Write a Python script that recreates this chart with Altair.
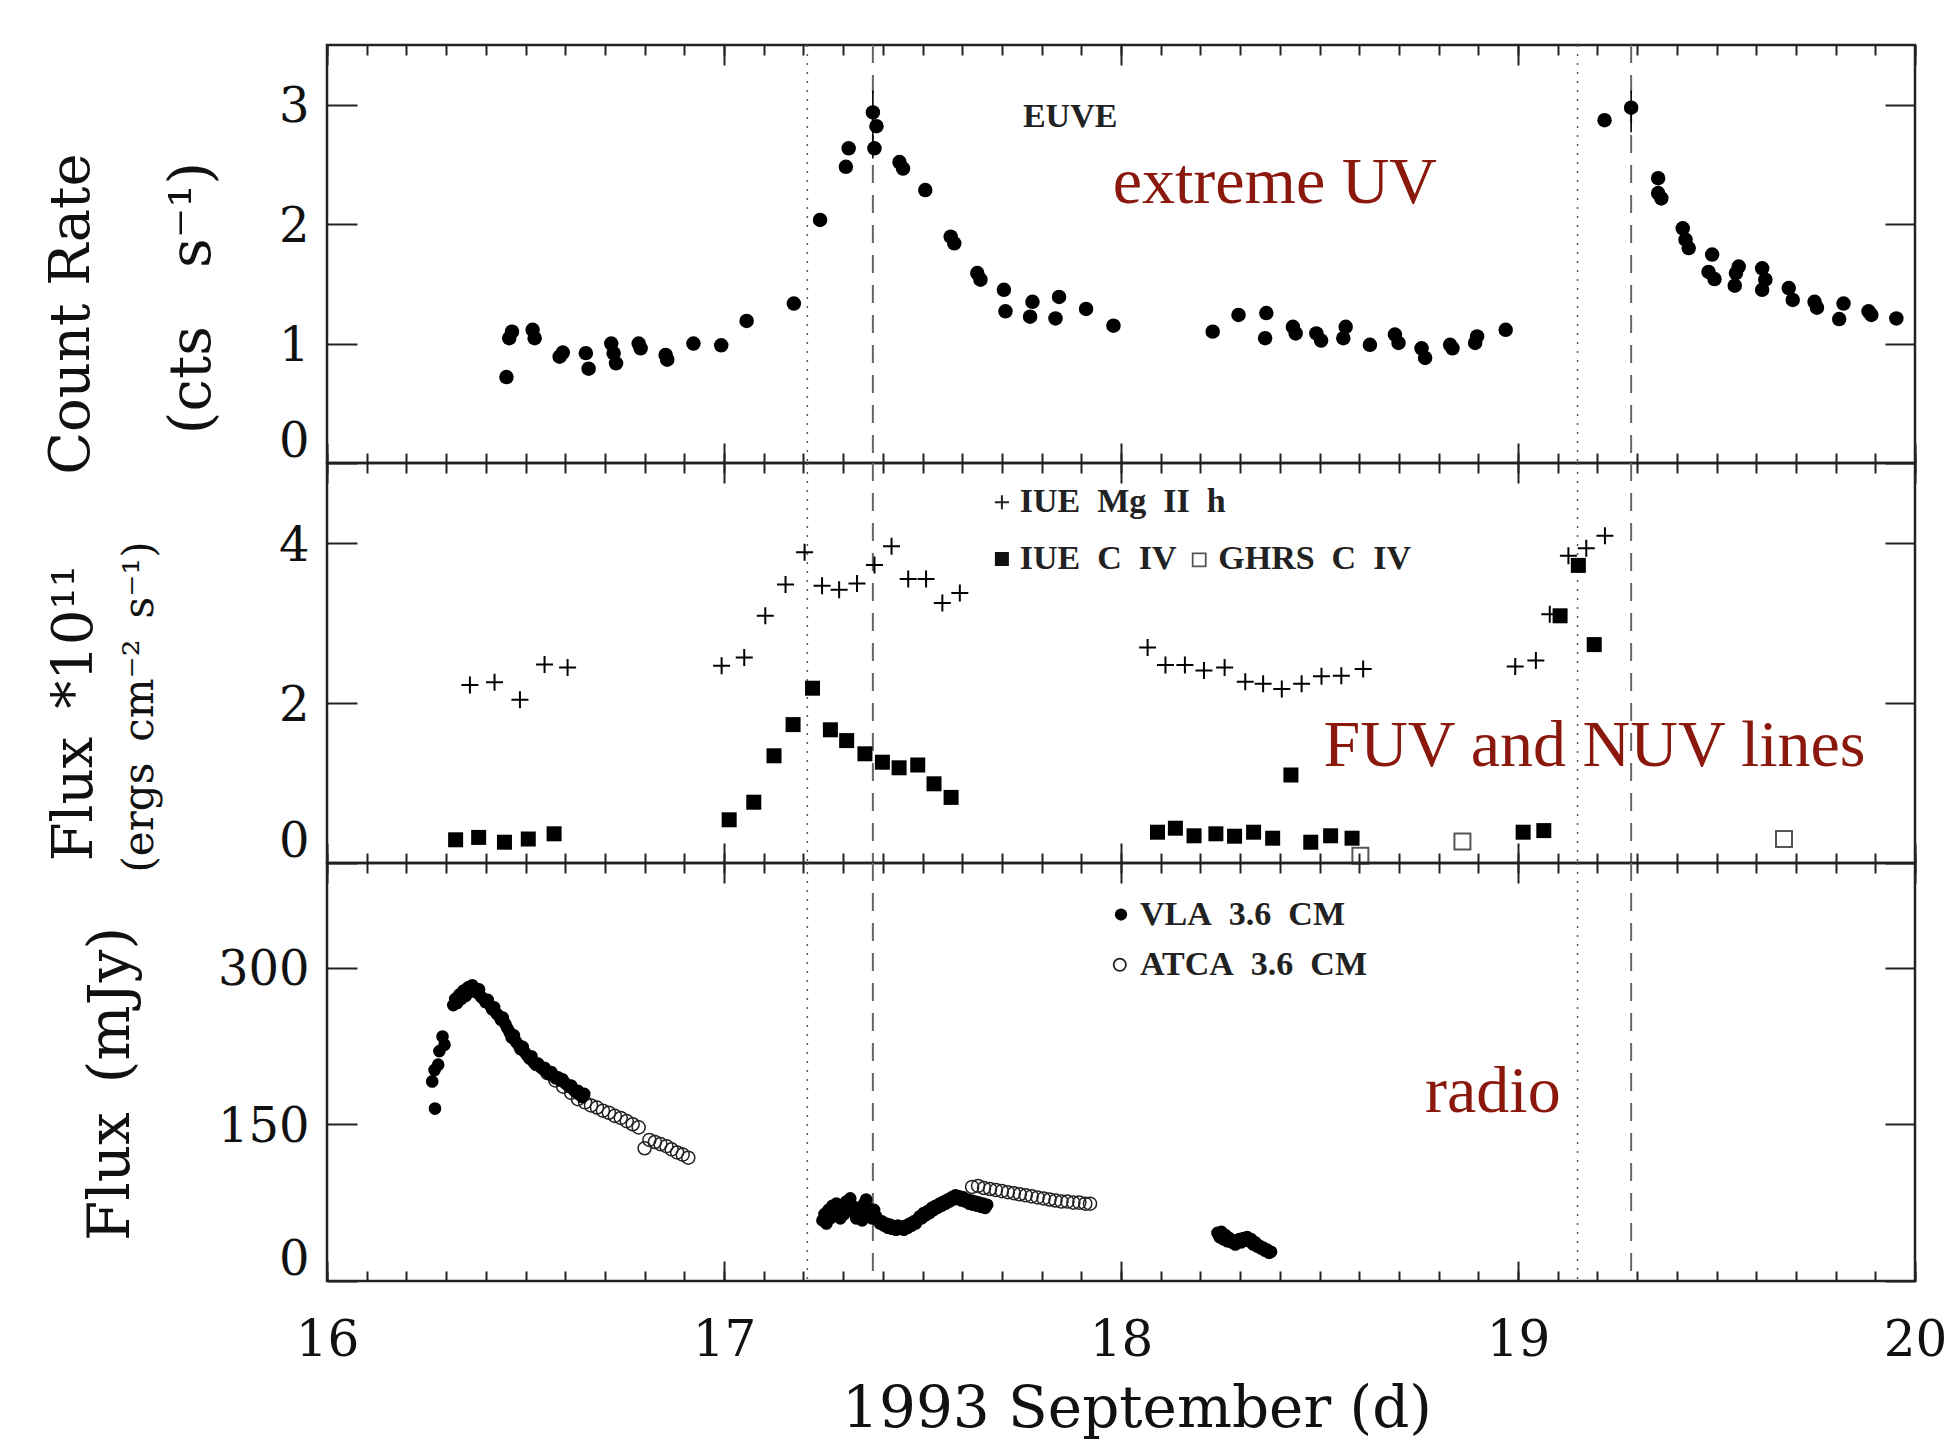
import altair as alt
import pandas as pd

# ---------------- data ----------------
EUVE_DAY = [16.452, 16.466, 16.459, 16.518, 16.523, 16.594, 16.586, 16.652, 16.659, 16.716,
            16.722, 16.728, 16.785, 16.790, 16.853, 16.857, 16.923, 16.993, 17.057, 17.176,
            17.242, 17.307, 17.314, 17.375, 17.384, 17.379, 17.442, 17.451, 17.507, 17.571,
            17.580, 17.638, 17.646, 17.705, 17.709, 17.777, 17.771, 17.844, 17.835, 17.912,
            17.981, 18.231, 18.296, 18.366, 18.363, 18.433, 18.440, 18.492, 18.504, 18.566,
            18.560, 18.627, 18.690, 18.699, 18.757, 18.766, 18.829, 18.835, 18.897, 18.892,
            18.969, 19.218, 19.285, 19.353, 19.353, 19.361, 19.415, 19.422, 19.430, 19.489,
            19.480, 19.495, 19.556, 19.549, 19.546, 19.615, 19.623, 19.615, 19.682, 19.692,
            19.747, 19.753, 19.820, 19.809, 19.883, 19.890, 19.953]
EUVE_RATE = [0.72, 1.10, 1.045, 1.115, 1.045, 0.925, 0.89, 0.92, 0.79, 1.00,
             0.92, 0.835, 1.00, 0.96, 0.905, 0.865, 1.00, 0.985, 1.19, 1.335,
             2.035, 2.48, 2.635, 2.935, 2.82, 2.635, 2.52, 2.465, 2.285, 1.895,
             1.84, 1.59, 1.535, 1.45, 1.27, 1.35, 1.225, 1.39, 1.21, 1.29,
             1.15, 1.10, 1.24, 1.255, 1.045, 1.14, 1.085, 1.085, 1.025, 1.14,
             1.045, 0.99, 1.075, 1.005, 0.96, 0.88, 0.99, 0.96, 1.06, 1.005,
             1.115, 2.87, 2.975, 2.385, 2.26, 2.215, 1.965, 1.87, 1.80, 1.745,
             1.60, 1.54, 1.645, 1.59, 1.485, 1.63, 1.535, 1.45, 1.465, 1.365,
             1.35, 1.30, 1.335, 1.205, 1.27, 1.24, 1.21]
EUVE_ERR_DAY = [17.375, 19.285]
EUVE_ERR_LO = [2.55, 2.77]
EUVE_ERR_HI = [3.12, 3.12]

MG_DAY = [16.360, 16.422, 16.486, 16.548, 16.606,
          16.994, 17.051, 17.104, 17.155, 17.203, 17.247, 17.290, 17.335, 17.379, 17.422,
          17.464, 17.509, 17.550, 17.594,
          18.067, 18.112, 18.161, 18.209, 18.261, 18.313, 18.358, 18.405, 18.455, 18.505,
          18.555, 18.610,
          18.993, 19.045, 19.080, 19.127, 19.172, 19.219]
MG_FLUX = [2.225, 2.26, 2.04, 2.48, 2.445,
           2.465, 2.57, 3.09, 3.48, 3.885, 3.465, 3.415, 3.495, 3.725, 3.96,
           3.55, 3.55, 3.25, 3.375,
           2.695, 2.475, 2.475, 2.405, 2.445, 2.265, 2.24, 2.175, 2.24, 2.335,
           2.34, 2.425,
           2.455, 2.53, 3.11, 3.84, 3.935, 4.09]

CIV_DAY = [16.324, 16.382, 16.447, 16.507, 16.572,
           17.013, 17.075, 17.126, 17.174, 17.223, 17.268, 17.309, 17.355, 17.399, 17.441,
           17.488, 17.529, 17.572,
           18.092, 18.137, 18.184, 18.239, 18.286, 18.334, 18.382, 18.428, 18.478, 18.528,
           18.582,
           19.013, 19.065, 19.106, 19.152, 19.192]
CIV_FLUX = [0.29, 0.32, 0.26, 0.30, 0.365,
            0.54, 0.76, 1.34, 1.73, 2.185, 1.665, 1.53, 1.365, 1.26, 1.19,
            1.225, 0.99, 0.82,
            0.385, 0.435, 0.34, 0.365, 0.335, 0.385, 0.31, 1.10, 0.26, 0.34,
            0.31,
            0.385, 0.405, 3.09, 3.72, 2.73]

GHRS_DAY = [18.603, 18.860, 19.670]
GHRS_FLUX = [0.09, 0.27, 0.30]

VLA = [(16.265, 191), (16.271, 202), (16.272, 165), (16.280, 207), (16.283, 220),
       (16.291, 234), (16.296, 226), (16.318, 264), (16.323, 270), (16.328, 266),
       (16.333, 274), (16.339, 270), (16.344, 278), (16.350, 273), (16.355, 281),
       (16.361, 277), (16.366, 283), (16.372, 280), (16.377, 276), (16.383, 279),
       (16.388, 272), (16.394, 270), (16.399, 267), (16.405, 269), (16.410, 264),
       (16.416, 260), (16.421, 262), (16.427, 256), (16.432, 254), (16.438, 250),
       (16.443, 252), (16.449, 246), (16.454, 242), (16.460, 238), (16.465, 233),
       (16.471, 235), (16.476, 229), (16.482, 226), (16.487, 222), (16.493, 224),
       (16.498, 219), (16.504, 216), (16.510, 213), (16.515, 215), (16.521, 209),
       (16.526, 207), (16.532, 208), (16.537, 205), (16.543, 203), (16.548, 204),
       (16.554, 200), (16.559, 198), (16.565, 200), (16.571, 196), (16.576, 194),
       (16.582, 195), (16.587, 192), (16.593, 193), (16.598, 190), (16.604, 188),
       (16.610, 186), (16.615, 187), (16.621, 183), (16.626, 181), (16.632, 182),
       (16.637, 178), (16.643, 176), (16.648, 179),
       (17.248, 58), (17.253, 64), (17.258, 55), (17.263, 68), (17.268, 60),
       (17.273, 72), (17.278, 63), (17.283, 74), (17.288, 66), (17.293, 60),
       (17.298, 70), (17.303, 64), (17.308, 76), (17.313, 68), (17.318, 79),
       (17.323, 72), (17.328, 66), (17.333, 60), (17.338, 70), (17.343, 62),
       (17.348, 58), (17.353, 74), (17.358, 78), (17.363, 70), (17.368, 64),
       (17.373, 60), (17.378, 68), (17.383, 62), (17.388, 58), (17.393, 55),
       (17.398, 57), (17.403, 53), (17.408, 55), (17.413, 51), (17.418, 54),
       (17.423, 50), (17.428, 52), (17.433, 49), (17.438, 53), (17.443, 50),
       (17.448, 52), (17.453, 49), (17.458, 53), (17.463, 51), (17.468, 55),
       (17.473, 53), (17.478, 57), (17.483, 55), (17.488, 59), (17.493, 62),
       (17.498, 60), (17.503, 65), (17.508, 63), (17.513, 67), (17.518, 65),
       (17.523, 70), (17.528, 68), (17.533, 72), (17.538, 70), (17.543, 74),
       (17.548, 72), (17.553, 76), (17.558, 74), (17.563, 78), (17.568, 76),
       (17.573, 80), (17.578, 78), (17.583, 82), (17.588, 79), (17.593, 81),
       (17.598, 77), (17.603, 80), (17.608, 76), (17.613, 78), (17.618, 74),
       (17.623, 77), (17.628, 73), (17.633, 76), (17.638, 72), (17.643, 75),
       (17.648, 71), (17.653, 74), (17.658, 70), (17.663, 73),
       (18.243, 46), (18.248, 42), (18.253, 47), (18.258, 40), (18.263, 44),
       (18.268, 38), (18.273, 41), (18.278, 37), (18.283, 39), (18.288, 35),
       (18.293, 38), (18.298, 40), (18.303, 37), (18.308, 41), (18.313, 39),
       (18.318, 42), (18.323, 38), (18.328, 40), (18.333, 35), (18.338, 37),
       (18.343, 33), (18.348, 34), (18.353, 31), (18.358, 32), (18.363, 29),
       (18.368, 30), (18.373, 27), (18.378, 28)]

ATCA = [(16.555, 199), (16.575, 192), (16.595, 186), (16.615, 180), (16.632, 174),
        (16.650, 171), (16.665, 168), (16.680, 166), (16.695, 163), (16.710, 161),
        (16.725, 158), (16.740, 156), (16.755, 153), (16.770, 150), (16.785, 147),
        (16.800, 127), (16.812, 135), (16.826, 133), (16.840, 131), (16.855, 129),
        (16.868, 126), (16.882, 123), (16.896, 121), (16.910, 118),
        (17.625, 90), (17.640, 91), (17.655, 89), (17.670, 88), (17.685, 87),
        (17.700, 86), (17.715, 85), (17.730, 84), (17.745, 83), (17.760, 82),
        (17.775, 81), (17.790, 80), (17.805, 79), (17.820, 78), (17.835, 77),
        (17.850, 76), (17.865, 76), (17.880, 75), (17.895, 75), (17.910, 74),
        (17.922, 74)]

DOTTED_DAYS = [17.21, 19.15]
DASHED_DAYS = [17.375, 19.285]

X_MAJOR = [16, 17, 18, 19, 20]
X_MINOR = [round(16 + 0.1 * i, 1) for i in range(41)]
Y1_TICKS = [0, 1, 2, 3]
Y2_TICKS = [0, 2, 4]
Y3_TICKS = [0, 150, 300]
Y1_DOM = [0, 3.5]
Y2_DOM = [0, 5]
Y3_DOM = [0, 400]

# ---------------- styling ----------------
W = 1588
H1, H2, H3 = 418, 400, 418
INK = "#111111"
RED = "#8a180c"
AXF = "DejaVu Serif"
SERIF = "Liberation Serif"
CROSS = "M-1,0L1,0M0,-1L0,1"


def xsc():
    return alt.Scale(domain=[16, 20], nice=False, zero=False)


def ysc(dom):
    return alt.Scale(domain=dom, nice=False, zero=False)


def xenc(field):
    return alt.X(f"{field}:Q", scale=xsc(), axis=None)


def yenc(field, dom):
    return alt.Y(f"{field}:Q", scale=ysc(dom), axis=None)


def vlines():
    dotted = alt.Chart(pd.DataFrame({"day": DOTTED_DAYS})).mark_rule(
        color="#555555", strokeWidth=1.5, strokeDash=[2, 7]).encode(x=xenc("day"))
    dashed = alt.Chart(pd.DataFrame({"day": DASHED_DAYS})).mark_rule(
        color="#666666", strokeWidth=2, strokeDash=[18, 12]).encode(x=xenc("day"))
    return [dotted, dashed]


def axis_layers(dom, yticks, xlabels=False):
    base = alt.Chart(alt.Data(values=[{"d": 16.0, "v": dom[0]}])).mark_point(opacity=0)
    common = dict(domain=False, grid=False, title=None, tickColor="#222222", tickWidth=2)
    out = []
    for orient in ("bottom", "top"):
        out.append(base.encode(
            x=alt.X("d:Q", scale=xsc(), axis=alt.Axis(
                orient=orient, values=X_MINOR, tickSize=10, offset=-10, labels=False, **common)),
            y=yenc("v", dom)))
        show = xlabels and orient == "bottom"
        out.append(base.encode(
            x=alt.X("d:Q", scale=xsc(), axis=alt.Axis(
                orient=orient, values=X_MAJOR, tickSize=20, offset=-20, labels=show,
                labelFont=AXF, labelFontSize=50, labelPadding=34, labelColor=INK,
                labelFlush=False, labelOverlap=False, labelBaseline="top", **common)),
            y=yenc("v", dom)))
    for orient in ("left", "right"):
        out.append(base.encode(
            x=xenc("d"),
            y=alt.Y("v:Q", scale=ysc(dom), axis=alt.Axis(
                orient=orient, values=yticks, tickSize=30, offset=-30,
                labels=(orient == "left"), labelFont=AXF, labelFontSize=48,
                labelPadding=18, labelOffset=3, labelColor=INK, labelFlush=False,
                labelOverlap=False,
                labelBaseline={"condition": {"test": "datum.value == 0", "value": "bottom"},
                               "value": "middle"},
                **common))))
    return out


def ptext(text, x, y, size, angle=270, font=AXF):
    return alt.Chart(alt.Data(values=[{}])).mark_text(
        text=text, angle=angle, font=font, fontSize=size, color=INK,
        align="center", baseline="middle").encode(x=alt.value(x), y=alt.value(y))


def dtext(text, day, val, dom, size, color, font=SERIF, weight="normal", baseline="middle"):
    df = pd.DataFrame({"day": [day], "val": [val], "t": [text]})
    return alt.Chart(df).mark_text(
        font=font, fontSize=size, color=color, fontWeight=weight, align="left",
        baseline=baseline).encode(x=xenc("day"), y=yenc("val", dom), text="t:N")


# ---------------- panel 1: EUVE ----------------
euve_df = pd.DataFrame({"day": EUVE_DAY, "rate": EUVE_RATE})
err_df = pd.DataFrame({"day": EUVE_ERR_DAY, "lo": EUVE_ERR_LO, "hi": EUVE_ERR_HI})

p1 = alt.layer(
    *vlines(),
    alt.Chart(err_df).mark_rule(color="black", strokeWidth=1.6).encode(
        x=xenc("day"), y=yenc("lo", Y1_DOM), y2="hi:Q"),
    alt.Chart(euve_df).mark_circle(size=210, color="black", opacity=1).encode(
        x=xenc("day"), y=yenc("rate", Y1_DOM)),
    dtext("EUVE", 17.753, 2.895, Y1_DOM, 34, "#222222", weight="bold"),
    dtext("extreme UV", 17.979, 2.174, Y1_DOM, 66, RED, baseline="alphabetic"),
    ptext("Count Rate", -255, 269, 56),
    ptext("(cts\u2003s\u207b\u00b9)", -134, 253, 58),
    *axis_layers(Y1_DOM, Y1_TICKS),
).resolve_axis(x="independent", y="independent").properties(width=W, height=H1)

# ---------------- panel 2: IUE / GHRS ----------------
mg_df = pd.DataFrame({"day": MG_DAY, "flux": MG_FLUX})
civ_df = pd.DataFrame({"day": CIV_DAY, "flux": CIV_FLUX})
ghrs_df = pd.DataFrame({"day": GHRS_DAY, "flux": GHRS_FLUX})
leg2_plus = pd.DataFrame({"day": [17.700], "flux": [4.51]})
leg2_sq = pd.DataFrame({"day": [17.700], "flux": [3.80]})
leg2_open = pd.DataFrame({"day": [18.197], "flux": [3.79]})

p2 = alt.layer(
    *vlines(),
    alt.Chart(mg_df).mark_point(shape=CROSS, filled=False, size=289, strokeWidth=2,
                                color="black", opacity=1).encode(
        x=xenc("day"), y=yenc("flux", Y2_DOM)),
    alt.Chart(civ_df).mark_square(size=225, color="black", opacity=1).encode(
        x=xenc("day"), y=yenc("flux", Y2_DOM)),
    alt.Chart(ghrs_df).mark_point(shape="square", filled=False, size=256, strokeWidth=2,
                                  color="#555555", opacity=1).encode(
        x=xenc("day"), y=yenc("flux", Y2_DOM)),
    alt.Chart(leg2_plus).mark_point(shape=CROSS, filled=False, size=200, strokeWidth=2,
                                    color="#222222", opacity=1).encode(
        x=xenc("day"), y=yenc("flux", Y2_DOM)),
    alt.Chart(leg2_sq).mark_square(size=196, color="#111111", opacity=1).encode(
        x=xenc("day"), y=yenc("flux", Y2_DOM)),
    alt.Chart(leg2_open).mark_point(shape="square", filled=False, size=170, strokeWidth=1.8,
                                    color="#555555", opacity=1).encode(
        x=xenc("day"), y=yenc("flux", Y2_DOM)),
    dtext("IUE\u2002Mg\u2002II\u2002h", 17.745, 4.51, Y2_DOM, 34, "#222222", weight="bold"),
    dtext("IUE\u2002C\u2002IV", 17.745, 3.80, Y2_DOM, 34, "#222222", weight="bold"),
    dtext("GHRS\u2002C\u2002IV", 18.245, 3.80, Y2_DOM, 34, "#222222", weight="bold"),
    dtext("FUV and NUV lines", 18.51, 1.2175, Y2_DOM, 66, RED, baseline="alphabetic"),
    ptext("Flux\u2002*10\u00b9\u00b9", -252, 250, 56),
    ptext("(ergs\u2002cm\u207b\u00b2\u2002s\u207b\u00b9)", -187, 244, 42),
    *axis_layers(Y2_DOM, Y2_TICKS),
).resolve_axis(x="independent", y="independent").properties(width=W, height=H2)

# ---------------- panel 3: radio ----------------
vla_df = pd.DataFrame(VLA, columns=["day", "flux"])
atca_df = pd.DataFrame(ATCA, columns=["day", "flux"])
leg3_fill = pd.DataFrame({"day": [18.0], "flux": [350.7]})
leg3_open = pd.DataFrame({"day": [17.997], "flux": [302.6]})

p3 = alt.layer(
    *vlines(),
    alt.Chart(atca_df).mark_point(shape="circle", filled=False, size=170, strokeWidth=1.5,
                                  color="#222222", opacity=1).encode(
        x=xenc("day"), y=yenc("flux", Y3_DOM)),
    alt.Chart(vla_df).mark_circle(size=160, color="black", opacity=1).encode(
        x=xenc("day"), y=yenc("flux", Y3_DOM)),
    alt.Chart(leg3_fill).mark_circle(size=150, color="black", opacity=1).encode(
        x=xenc("day"), y=yenc("flux", Y3_DOM)),
    alt.Chart(leg3_open).mark_point(shape="circle", filled=False, size=150, strokeWidth=1.8,
                                    color="#222222", opacity=1).encode(
        x=xenc("day"), y=yenc("flux", Y3_DOM)),
    dtext("VLA\u20023.6\u2002CM", 18.048, 350.7, Y3_DOM, 34, "#222222", weight="bold"),
    dtext("ATCA\u20023.6\u2002CM", 18.048, 302.6, Y3_DOM, 34, "#222222", weight="bold"),
    dtext("radio", 18.766, 162, Y3_DOM, 66, RED, baseline="alphabetic"),
    ptext("Flux\u2002(mJy)", -215, 221, 58),
    ptext("1993 September (d)", 810, 547, 58, angle=0),
    *axis_layers(Y3_DOM, Y3_TICKS, xlabels=True),
).resolve_axis(x="independent", y="independent").properties(width=W, height=H3)

chart = alt.vconcat(p1, p2, p3, spacing=0, bounds="flush").configure_view(
    stroke="#222222", strokeWidth=2.5
).properties(
    padding={"left": 42, "top": 42, "right": 0, "bottom": 0},
    background="white",
)

chart.save("out.html", embed_options={"renderer": "svg", "actions": False})
